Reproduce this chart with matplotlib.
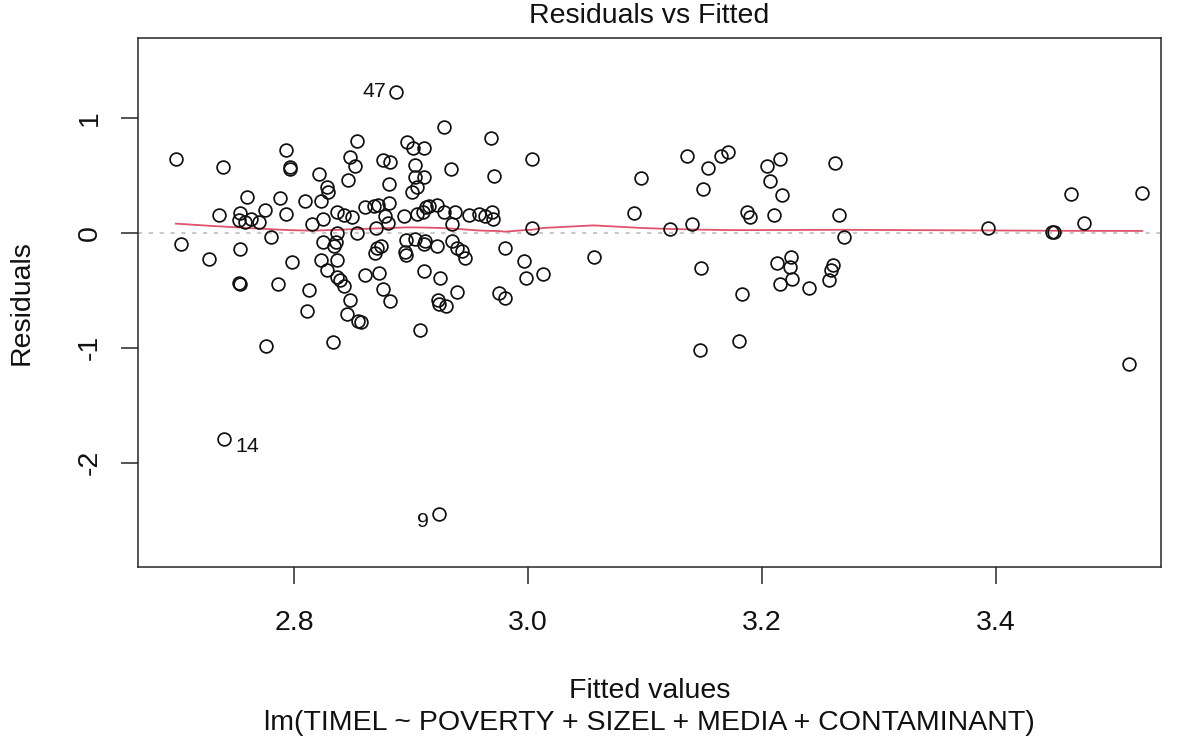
import numpy as np
import matplotlib
matplotlib.use("Agg")
import matplotlib.pyplot as plt

# Fitted values and residuals from lm(TIMEL ~ POVERTY + SIZEL + MEDIA + CONTAMINANT)
fitted = [
    2.699, 2.739, 2.793, 2.797, 2.797, 2.854, 2.848, 2.852, 2.821, 2.828,
    2.829, 2.846, 2.876, 2.882, 2.881, 2.760, 2.788, 2.809, 2.823, 2.881,
    2.736, 2.754, 2.753, 2.758, 2.763, 2.770, 2.775, 2.793, 2.815, 2.825,
    2.837, 2.843, 2.850, 2.861, 2.868, 2.872, 2.878, 2.880, 2.870, 2.854,
    2.703, 2.727, 2.754, 2.780, 2.753, 2.754, 2.786, 2.798, 2.776, 2.813,
    2.811, 2.823, 2.828, 2.825, 2.837, 2.836, 2.834, 2.837, 2.837, 2.839,
    2.843, 2.848, 2.845, 2.855, 2.857, 2.833, 2.861, 2.873, 2.876, 2.882,
    2.869, 2.874, 2.871, 2.887, 2.928, 2.968, 3.003, 2.897, 2.902, 2.911,
    2.903, 2.903, 2.911, 2.934, 2.971, 2.905, 2.901, 2.894, 2.905, 2.910,
    2.913, 2.915, 2.922, 2.928, 2.938, 2.935, 2.950, 2.958, 2.963, 2.969,
    2.970, 3.003, 2.896, 2.903, 2.912, 2.911, 2.895, 2.896, 2.922, 2.935,
    2.939, 2.944, 2.946, 2.911, 2.925, 2.939, 2.923, 2.924, 2.930, 2.908,
    2.980, 2.997, 2.998, 3.013, 2.975, 2.980, 3.056, 3.097, 3.091, 3.121,
    3.136, 3.140, 3.154, 3.150, 3.165, 3.171, 3.148, 3.147, 3.180, 3.183,
    3.187, 3.190, 3.204, 3.215, 3.207, 3.217, 3.210, 3.213, 3.225, 3.224,
    3.226, 3.215, 3.240, 3.262, 3.266, 3.270, 3.261, 3.259, 3.257, 3.393,
    3.448, 3.450, 3.464, 3.475, 3.525, 3.514, 2.740, 2.924,
]
residuals = [
    0.641, 0.574, 0.719, 0.569, 0.550, 0.797, 0.656, 0.580, 0.510, 0.395,
    0.357, 0.458, 0.632, 0.612, 0.421, 0.313, 0.299, 0.278, 0.276, 0.256,
    0.154, 0.169, 0.110, 0.096, 0.119, 0.090, 0.197, 0.160, 0.076, 0.117,
    0.183, 0.154, 0.134, 0.226, 0.235, 0.241, 0.148, 0.087, 0.038, -0.005,
    -0.098, -0.233, -0.144, -0.037, -0.435, -0.450, -0.446, -0.257, -0.985, -0.498,
    -0.678, -0.240, -0.324, -0.085, -0.005, -0.081, -0.120, -0.237, -0.388, -0.411,
    -0.463, -0.585, -0.704, -0.765, -0.779, -0.948, -0.368, -0.353, -0.490, -0.591,
    -0.179, -0.120, -0.129, 1.226, 0.915, 0.826, 0.641, 0.789, 0.734, 0.734,
    0.589, 0.482, 0.482, 0.551, 0.493, 0.395, 0.354, 0.148, 0.163, 0.183,
    0.226, 0.235, 0.241, 0.177, 0.183, 0.076, 0.154, 0.163, 0.145, 0.183,
    0.117, 0.043, -0.063, -0.057, -0.070, -0.094, -0.165, -0.190, -0.113, -0.075,
    -0.133, -0.159, -0.224, -0.330, -0.394, -0.520, -0.585, -0.620, -0.637, -0.846,
    -0.130, -0.246, -0.397, -0.359, -0.522, -0.570, -0.214, 0.473, 0.169, 0.030,
    0.667, 0.073, 0.560, 0.380, 0.667, 0.699, -0.310, -1.020, -0.939, -0.533,
    0.177, 0.134, 0.580, 0.638, 0.450, 0.328, 0.154, -0.266, -0.214, -0.301,
    -0.405, -0.446, -0.478, 0.603, 0.154, -0.035, -0.281, -0.324, -0.411, 0.038,
    0.009, 0.009, 0.337, 0.087, 0.348, -1.145, -1.794, -2.449,
]

# Observations flagged with the largest absolute residuals
flag_index = [73, 166, 167]
flag_names = ["47", "14", "9"]

x_ticks = [2.8, 3.0, 3.2, 3.4]
y_ticks = [-2, -1, 0, 1]


def lowess(x, y, f=2.0 / 3.0, iters=3):
    """Locally weighted scatterplot smoothing, in the style of R's lowess()."""
    order = np.argsort(x, kind="mergesort")
    xs = np.asarray(x, float)[order]
    ys = np.asarray(y, float)[order]
    n = len(xs)
    ns = max(min(int(f * n + 1e-7), n), 2)
    rw = np.ones(n)
    fit = np.zeros(n)
    for it in range(iters + 1):
        for i in range(n):
            d = np.abs(xs - xs[i])
            h = np.sort(d)[ns - 1]
            h = max(h, 1e-12)
            u = d / h
            w = np.where(u < 0.999, (1 - np.clip(u, 0, 1) ** 3) ** 3, 0.0)
            w[u <= 0.001] = 1.0
            w = w * rw
            sw = w.sum()
            if sw <= 0:
                fit[i] = ys[i]
                continue
            xm = (w * xs).sum() / sw
            ym = (w * ys).sum() / sw
            sxx = (w * (xs - xm) ** 2).sum()
            if sxx > 1e-12 * (xs.max() - xs.min()) ** 2:
                b = (w * (xs - xm) * (ys - ym)).sum() / sxx
            else:
                b = 0.0
            fit[i] = ym + b * (xs[i] - xm)
        if it == iters:
            break
        res = ys - fit
        s = np.median(np.abs(res)) * 6.0
        if s <= 0:
            break
        r = np.abs(res) / s
        rw = np.where(r < 1, (1 - r ** 2) ** 2, 0.0)
    return xs, fit


plt.rcParams["font.family"] = ["Liberation Sans", "DejaVu Sans"]
base_size = 20.5

fig = plt.figure(figsize=(11.81, 7.40), dpi=100)
ax = fig.add_axes([138 / 1181, 1 - 567 / 740, 1023 / 1181, 529 / 740])

frame_col = "#262626"

# zero reference line
ax.axhline(0, color="#BEBEBE", lw=1.2, linestyle=(0, (2.5, 4.0)), zorder=1)

ax.plot(fitted, residuals, linestyle="none", marker="o", markersize=9.2,
        markerfacecolor="none", markeredgecolor="#111111", markeredgewidth=1.25,
        zorder=3)

sx, sy = lowess(fitted, residuals)
ax.plot(sx, sy, color="#DF536B", lw=1.3, zorder=2)

# labels for the flagged observations
label_style = {
    "47": dict(xytext=(-6.5, -3.8), ha="right", va="baseline"),
    "14": dict(xytext=(8.0, -9.4), ha="left", va="baseline"),
    "9": dict(xytext=(-7.0, -9.4), ha="right", va="baseline"),
}
for idx, name in zip(flag_index, flag_names):
    ax.annotate(name, (fitted[idx], residuals[idx]), textcoords="offset points",
                fontsize=base_size * 0.75, color="#111111", **label_style[name])

ax.set_xlim(2.66667, 3.54103)
ax.set_ylim(-2.907, 1.693)

ax.set_xticks(x_ticks)
ax.set_xticklabels([f"{v:.1f}" for v in x_ticks])
ax.set_yticks(y_ticks)
ax.set_yticklabels([str(v) for v in y_ticks], rotation=90, va="center")

ax.tick_params(axis="both", length=12.2, width=1.1, color=frame_col,
               labelsize=base_size, labelcolor="#111111")
ax.tick_params(axis="x", pad=19)
ax.tick_params(axis="y", pad=13)

for sp in ax.spines.values():
    sp.set_linewidth(1.1)
    sp.set_color(frame_col)

ax.set_xlabel("Fitted values", fontsize=base_size, color="#111111")
ax.xaxis.set_label_coords(0.5, (567 - 691) / 529)
ax.xaxis.label.set_va("center")
ax.text(0.5, (567 - 722.5) / 529,
        "lm(TIMEL ~ POVERTY + SIZEL + MEDIA + CONTAMINANT)",
        transform=ax.transAxes, ha="center", va="center",
        fontsize=base_size, color="#111111")

ax.set_ylabel("Residuals", fontsize=base_size, color="#111111")
ax.yaxis.set_label_coords((22 - 138) / 1023, 0.5)
ax.yaxis.label.set_va("center")

ax.text(0.5, (567 - 23.5) / 529, "Residuals vs Fitted", transform=ax.transAxes,
        ha="center", va="baseline", fontsize=base_size, color="#111111")

fig.savefig("out.png", dpi=100)
